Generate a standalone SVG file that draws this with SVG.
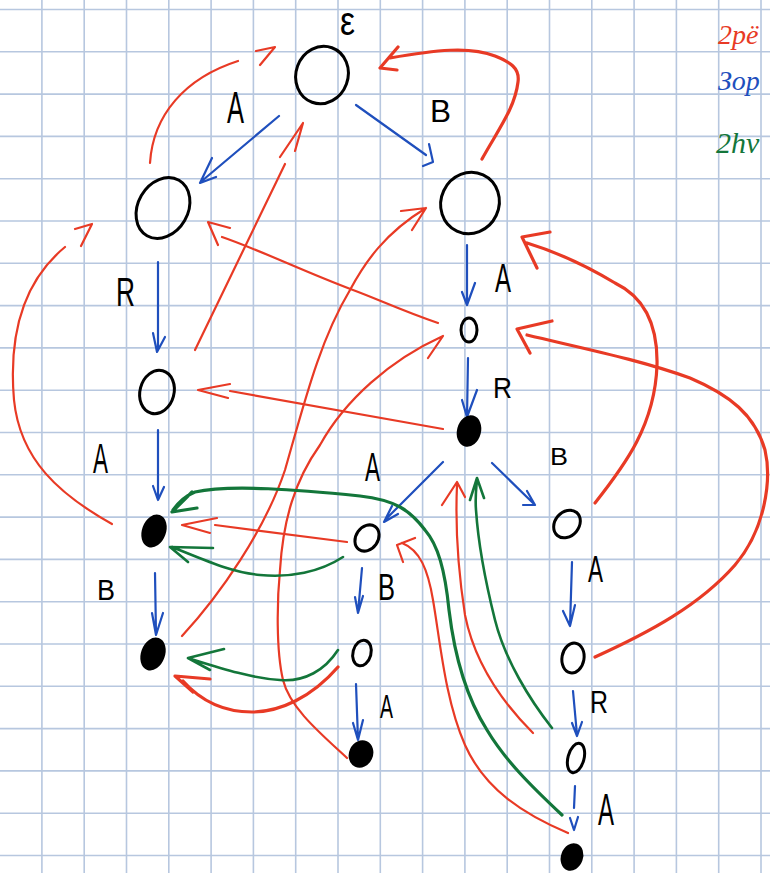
<svg xmlns="http://www.w3.org/2000/svg" width="770" height="873" viewBox="0 0 770 873">
<style>
.grid{stroke:#b7c7df;stroke-width:1.6;fill:none}
.open{fill:none;stroke:#000;stroke-width:3}
.full{fill:#000;stroke:#000;stroke-width:2}
.lbl{font-family:"Liberation Sans","DejaVu Sans",sans-serif;fill:#000}
.r{fill:none;stroke:#e83a25;stroke-width:2.2;stroke-linecap:round;stroke-linejoin:round}
.rt{stroke-width:3.2}
.b{fill:none;stroke:#1f4fbd;stroke-width:2.2;stroke-linecap:round;stroke-linejoin:round}
.g{fill:none;stroke:#13763a;stroke-width:2.6;stroke-linecap:round;stroke-linejoin:round}
.gt{stroke-width:3.2}
.leg{font-family:"Liberation Serif","DejaVu Serif",serif;font-style:italic}
</style>
<rect width="770" height="873" fill="#ffffff"/>
<path class="grid" d="M41.9,0V873M84.2,0V873M126.5,0V873M168.8,0V873M211.1,0V873M253.4,0V873M295.7,0V873M338,0V873M380.3,0V873M422.6,0V873M464.9,0V873M507.2,0V873M549.5,0V873M591.8,0V873M634.1,0V873M676.4,0V873M718.7,0V873M761,0V873M0,9.5H770M0,51.8H770M0,94.1H770M0,136.4H770M0,178.7H770M0,221H770M0,263.3H770M0,305.6H770M0,347.9H770M0,390.2H770M0,432.5H770M0,474.8H770M0,517.1H770M0,559.4H770M0,601.7H770M0,644H770M0,686.3H770M0,728.6H770M0,770.9H770M0,813.2H770M0,855.5H770"/>

<g id="legend">
<text class="leg" x="718" y="44" font-size="28" fill="#e83a25">2рё</text>
<text class="leg" x="718" y="90" font-size="28" fill="#1f4fbd">Зор</text>
<text class="leg" x="716" y="153" font-size="30" fill="#13763a">2hv</text>
</g>

<g id="connectors">
<g id="trie">
<path class="b" d="M279,116 L203,180 M212,158 L200,183 L216,177"/>
<path class="b" d="M356,105 L426,155 M429,144 L433,162 L423,166"/>
<path class="b" d="M158,262 L158,350 M153,333 L157,352 L165,337"/>
<path class="b" d="M158,430 L158,500 M153,486 L158,500 L164,487"/>
<path class="b" d="M155,573 L156,635 M152,613 L156,635 L163,613"/>
<path class="b" d="M467,245 L467,305 M462,292 L467,305 L475,283"/>
<path class="b" d="M468,358 L467,417 M462,400 L467,417 L477,390"/>
<path class="b" d="M443,462 L385,520 M392,506 L384,522 L398,514"/>
<path class="b" d="M492,463 L533,503 M527,491 L535,505 L523,505"/>
<path class="b" d="M362,568 L358,613 M355,597 L358,613 L363,596"/>
<path class="b" d="M356,684 L358,740 M353,723 L358,740 L363,720"/>
<path class="b" d="M572,562 L570,626 M563,611 L570,626 L575,605" stroke-width="3"/>
<path class="b" d="M573,691 L577,735 M572,723 L577,736 L582,722"/>
<path class="b" d="M575,786 L574,808 M570,818 L574,830 L578,817"/>
</g>
<g id="suffix">
<path class="r" d="M150,163 C153,115 185,78 238,61 M256,51 L275,47 L260,65"/>
<path class="r rt" d="M482,159 C498,130 515,108 518,82 C520,68 510,62 495,56 C470,46 435,50 390,58 M398,47 L380,68 L397,70"/>
<path class="r" d="M112,524 C60,495 20,460 14,400 C8,330 25,280 65,247 M75,229 L92,224 L81,246"/>
<path class="r" d="M195,350 L285,164 M280,157 L303,123 L295,151"/>
<path class="r" d="M182,636 C220,595 265,530 285,470 C305,400 320,340 350,290 C365,262 385,233 426,208 M401,211 L426,208 L412,230"/>
<path class="r" d="M347,758 C320,733 290,708 283,680 C276,650 277,600 280,570 C283,520 295,480 320,445 C345,400 390,360 443,336 L428,358"/>
<path class="r" d="M438,323 C400,310 380,300 353,290 C300,270 260,250 222,237 M230,228 L208,222 L218,245"/>
<path class="r" d="M443,429 L230,391 M230,384 L198,390 L228,398"/>
<path class="r" d="M347,542 L215,525 M217,518 L182,525 L210,533"/>
<path class="r rt" d="M338,667 C312,697 280,712 252,712 C222,712 200,700 183,681 M210,679 L175,676 L193,692"/>
<path class="r" d="M568,833 C525,815 485,790 465,745 C445,700 440,640 433,600 C428,570 420,550 402,543 M415,538 L397,545 L403,562"/>
<path class="r" d="M533,733 C505,705 475,665 465,615 C458,570 455,530 457,485 M442,505 L457,482 L465,497"/>
<path class="r rt" d="M595,503 C625,465 655,425 657,365 C658,320 640,295 615,283 C590,268 560,253 527,243 M550,232 L522,237 L537,268"/>
<path class="r rt" d="M595,657 C650,632 700,605 735,565 C765,530 772,480 765,450 C755,415 730,395 690,378 C640,360 590,350 527,335 M552,321 L517,329 L530,353"/>
</g>
<g id="output">
<path class="g gt" d="M562,815 C530,785 505,760 487,730 C468,700 455,660 449,610 C445,570 438,545 425,530 C410,510 395,500 360,496 C300,490 230,484 195,492 C185,496 178,503 173,510 M192,492 L172,512 L197,508"/>
<path class="g" d="M552,728 C530,700 505,660 495,620 C485,580 478,540 476,510 C475,498 476,490 477,479 M470,500 L477,478 L484,498"/>
<path class="g" d="M343,557 C320,572 290,578 260,575 C230,572 205,560 172,547 M213,548 L170,547 L188,562"/>
<path class="g" d="M338,650 C325,670 305,682 280,680 C250,678 220,668 188,658 M224,649 L188,658 L210,670"/>
</g>
</g>

<g id="n_root"><ellipse class="open" cx="322" cy="75" rx="26" ry="29" transform="rotate(20 322 75)"/><text class="lbl" x="340" y="35" font-size="40" textLength="15" lengthAdjust="spacingAndGlyphs">ε</text></g>
<g id="n_A"><ellipse class="open" cx="163" cy="208" rx="25" ry="32" transform="rotate(30 163 208)"/><text class="lbl" x="227" y="123" font-size="44" textLength="17" lengthAdjust="spacingAndGlyphs">A</text></g>
<g id="n_B"><ellipse class="open" cx="470" cy="203" rx="29" ry="31" transform="rotate(25 470 203)"/><text class="lbl" x="430" y="122" font-size="32" textLength="21" lengthAdjust="spacingAndGlyphs">B</text></g>
<g id="n_AR"><ellipse class="open" cx="157" cy="392" rx="17" ry="22" transform="rotate(15 157 392)"/><text class="lbl" x="116" y="306" font-size="40" textLength="19" lengthAdjust="spacingAndGlyphs">R</text></g>
<g id="n_BA"><ellipse class="open" cx="469" cy="330" rx="8" ry="12"/><text class="lbl" x="495" y="292" font-size="40" textLength="16" lengthAdjust="spacingAndGlyphs">A</text></g>
<g id="n_BAR"><ellipse class="full" cx="469" cy="431" rx="11" ry="15" transform="rotate(15 469 431)"/><text class="lbl" x="493" y="398" font-size="30" textLength="19" lengthAdjust="spacingAndGlyphs">R</text></g>
<g id="n_ARA"><ellipse class="full" cx="154" cy="531" rx="11" ry="16" transform="rotate(20 154 531)"/><text class="lbl" x="93" y="473" font-size="42" textLength="15" lengthAdjust="spacingAndGlyphs">A</text></g>
<g id="n_BARA"><ellipse class="open" cx="367" cy="538" rx="11" ry="14" transform="rotate(35 367 538)"/><text class="lbl" x="365" y="481" font-size="40" textLength="15" lengthAdjust="spacingAndGlyphs">A</text></g>
<g id="n_BARB"><ellipse class="open" cx="567" cy="524" rx="12" ry="15" transform="rotate(40 567 524)"/><text class="lbl" x="550" y="465" font-size="24" textLength="18" lengthAdjust="spacingAndGlyphs">B</text></g>
<g id="n_ARAB"><ellipse class="full" cx="153" cy="654" rx="11" ry="16" transform="rotate(20 153 654)"/><text class="lbl" x="97" y="600" font-size="30" textLength="18" lengthAdjust="spacingAndGlyphs">B</text></g>
<g id="n_BARAB"><ellipse class="open" cx="362" cy="653" rx="9" ry="13" transform="rotate(15 362 653)"/><text class="lbl" x="378" y="600" font-size="36" textLength="17" lengthAdjust="spacingAndGlyphs">B</text></g>
<g id="n_BARABA"><ellipse class="full" cx="361" cy="754" rx="11" ry="13" transform="rotate(25 361 754)"/><text class="lbl" x="380" y="718" font-size="34" textLength="13" lengthAdjust="spacingAndGlyphs">A</text></g>
<g id="n_BARBA"><ellipse class="open" cx="573" cy="658" rx="11" ry="15" transform="rotate(10 573 658)"/><text class="lbl" x="588" y="582" font-size="36" textLength="15" lengthAdjust="spacingAndGlyphs">A</text></g>
<g id="n_BARBAR"><ellipse class="open" cx="576" cy="758" rx="8" ry="15" transform="rotate(15 576 758)"/><text class="lbl" x="590" y="713" font-size="32" textLength="18" lengthAdjust="spacingAndGlyphs">R</text></g>
<g id="n_BARBARA"><ellipse class="full" cx="572" cy="857" rx="10" ry="13" transform="rotate(20 572 857)"/><text class="lbl" x="598" y="825" font-size="44" textLength="16" lengthAdjust="spacingAndGlyphs">A</text></g>
</svg>
